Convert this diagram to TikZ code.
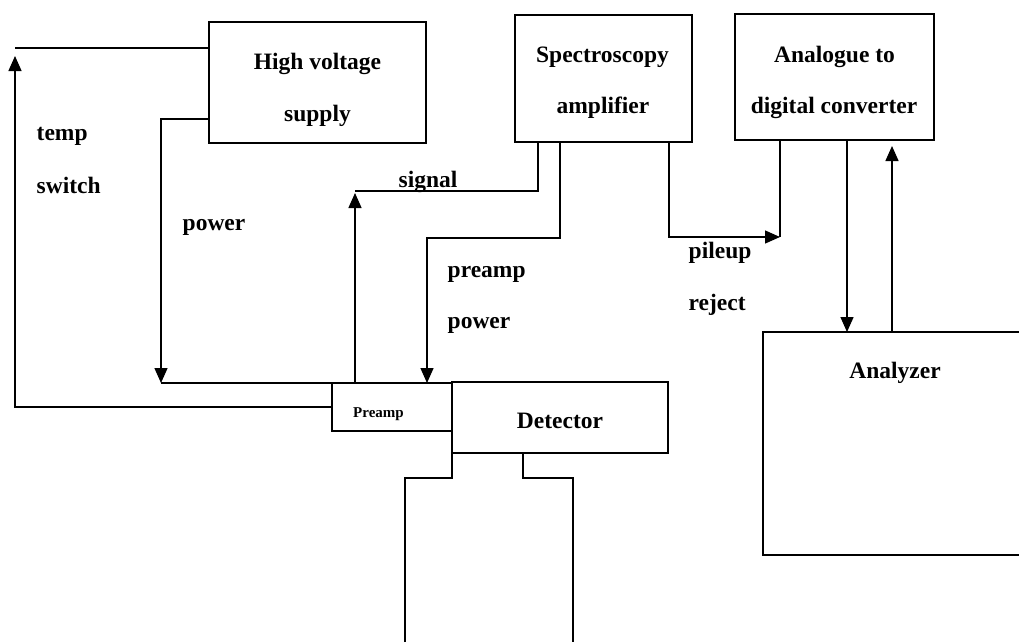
\documentclass[tikz,border=0pt]{standalone}
\usepackage{fontspec}
\setmainfont{Liberation Serif}
\usetikzlibrary{arrows.meta}
\begin{document}
\begin{tikzpicture}[x=1pt,y=-1pt, line width=1.4pt,
  box/.style={draw, rectangle, inner sep=0pt, outer sep=0pt, anchor=north west},
  txt/.style={font=\bfseries\fontsize{23.5}{28}\selectfont, inner sep=0pt, anchor=base},
  lbl/.style={font=\bfseries\fontsize{23.5}{28}\selectfont, inner sep=0pt, anchor=base west},
  arr/.style={-{Triangle[length=15pt,width=13pt]}}]
\clip (0,0) rectangle (1019,642);
\fill[white] (0,0) rectangle (1019,642);
% boxes
\node[box, minimum width=217pt, minimum height=121pt] (hv) at (209,22) {};
\node[box, minimum width=177pt, minimum height=127pt] (amp) at (515,15) {};
\node[box, minimum width=199pt, minimum height=126pt] (adc) at (735,14) {};
\node[box, minimum width=120pt, minimum height=48pt] (preamp) at (332,383) {};
\node[box, minimum width=216pt, minimum height=71pt] (detector) at (452,382) {};
\node[box, minimum width=290pt, minimum height=223pt] (analyzer) at (763,332) {};
% box texts
\node[txt] (hvA) at (317.5,70) {High voltage};
\node[txt] (hvB) at (317.5,121) {supply};
\node[txt] (ampA) at (602.5,63) {Spectroscopy};
\node[txt] (ampB) at (603,113) {amplifier};
\node[txt] (adcA) at (834.5,63) {Analogue to};
\node[txt] (adcB) at (834,113) {digital converter};
\node[txt] (detT) at (560,428) {Detector};
\node[txt, font=\bfseries\fontsize{15}{18}\selectfont] (preT) at (378.5,417) {Preamp};
\node[txt] (anaT) at (895,378) {Analyzer};
% labels
\node[lbl] (l1) at (36,140) {temp};
\node[lbl] (l2) at (36,193) {switch};
\node[lbl] (l3) at (182,230) {power};
\node[lbl] (l4) at (398,187) {signal};
\node[lbl] (l5) at (447,277) {preamp};
\node[lbl] (l6) at (447,328) {power};
\node[lbl] (l7) at (688,258) {pileup};
\node[lbl] (l8) at (688,310) {reject};
% coordinates
\coordinate (tl) at (15,48);
\coordinate (pw) at (161,119);
\coordinate (sg) at (355,191);
\coordinate (sgx) at (538,191);
\coordinate (pp) at (427,238);
\coordinate (ppx) at (560,238);
\coordinate (pu) at (669,237);
\coordinate (pux) at (780,237);
\coordinate (d1) at (847,300);
\coordinate (u1) at (892,300);
\coordinate (dwL) at (405,642);
\coordinate (dwLa) at (405,478);
\coordinate (dwLb) at (452,478);
\coordinate (dwRa) at (523,453);
\coordinate (dwRb) at (523,478);
\coordinate (dwRc) at (573,478);
\coordinate (dwR) at (573,642);
% connectors
\draw[arr, shorten >=8pt] (preamp.west) -| (tl);
\draw (tl) -- (tl -| hv.west);
\draw[arr] (hv.west |- pw) -- (pw) -- (pw |- preamp.north);
\draw (pw |- preamp.north) -- (preamp.north west);
\draw[arr, shorten >=2pt] (preamp.north -| sg) -- (sg);
\draw (sg) -- (sgx) -- (sgx |- amp.south);
\draw[arr] (amp.south -| ppx) -- (ppx) -- (pp) -- (pp |- preamp.north);
\draw[arr] (amp.south -| pu) -- (pu) -- (pux);
\draw (pux) -- (pux |- adc.south);
\draw[arr] (adc.south -| d1) -- (analyzer.north -| d1);
\draw[arr, shorten >=6pt] (analyzer.north -| u1) -- (adc.south -| u1);
% dewar
\draw (dwL) -- (dwLa) -- (dwLb) -- (detector.south west);
\draw (dwRa) -- (dwRb) -- (dwRc) -- (dwR);
\end{tikzpicture}
\end{document}
